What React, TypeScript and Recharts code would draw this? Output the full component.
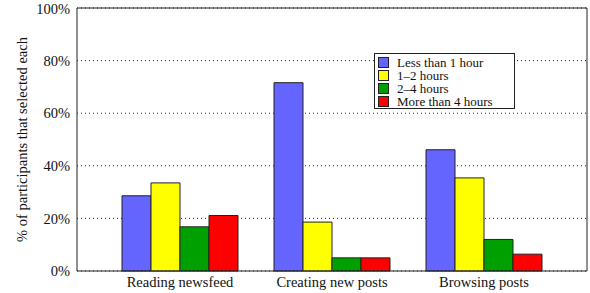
import React from "react";
import {
  BarChart,
  Bar,
  XAxis,
  YAxis,
  CartesianGrid,
  Legend,
} from "recharts";

const activities = ["Reading newsfeed", "Creating new posts", "Browsing posts"];
const lessThan1 = [28.6, 71.6, 46.1];
const oneToTwo = [33.5, 18.6, 35.4];
const twoToFour = [16.8, 5.0, 12.0];
const moreThan4 = [21.1, 5.0, 6.4];
const yTicks = [0, 20, 40, 60, 80, 100];

const seriesInfo = [
  { key: "lt1", name: "Less than 1 hour", color: "#6464ff" },
  { key: "h12", name: "1\u20132 hours", color: "#ffff00" },
  { key: "h24", name: "2\u20134 hours", color: "#00a000" },
  { key: "gt4", name: "More than 4 hours", color: "#ff0000" },
];

const data = activities.map((name, i) => ({
  name,
  lt1: lessThan1[i],
  h12: oneToTwo[i],
  h24: twoToFour[i],
  gt4: moreThan4[i],
}));

const font = "Liberation Serif, Times New Roman, serif";
const ink = "#111";
const frame = "#222";

function LegendBox() {
  return (
    <div
      style={{
        width: 141,
        height: 56,
        boxSizing: "border-box",
        border: `1px solid ${frame}`,
        background: "#fff",
        padding: "2px 3px",
        fontFamily: font,
        fontSize: 13,
        color: ink,
      }}
    >
      {seriesInfo.map((s) => (
        <div
          key={s.key}
          style={{ display: "flex", alignItems: "center", height: 13, lineHeight: "13px" }}
        >
          <span
            style={{
              display: "inline-block",
              width: 9,
              height: 9,
              border: `1px solid ${frame}`,
              background: s.color,
              marginRight: 8,
            }}
          />
          <span>{s.name}</span>
        </div>
      ))}
    </div>
  );
}

export default function App() {
  return (
    <div
      style={{
        position: "absolute",
        left: 0,
        top: 0,
        width: 590,
        height: 293,
        background: "#fff",
        fontFamily: font,
      }}
    >
      <BarChart
        width={590}
        height={293}
        data={data}
        margin={{ top: 8, right: 3, bottom: 0, left: 0 }}
        barGap={0}
        barSize={29}
      >
        <CartesianGrid vertical={false} stroke={frame} strokeDasharray="1 3" />
        <XAxis
          dataKey="name"
          padding={{ left: 27, right: 27 }}
          height={22}
          tickLine={false}
          tickSize={0}
          tickMargin={6}
          axisLine={{ stroke: frame }}
          tick={{ fontSize: 14.5, fill: ink, fontFamily: font }}
        />
        <XAxis
          xAxisId="top"
          dataKey="name"
          orientation="top"
          padding={{ left: 27, right: 27 }}
          height={1}
          mirror
          tick={false}
          tickSize={4}
          tickLine={{ stroke: frame }}
          axisLine={{ stroke: frame }}
        />
        <YAxis
          domain={[0, 100]}
          ticks={yTicks}
          width={77}
          tickLine={false}
          tickSize={0}
          tickMargin={7}
          tickFormatter={(v: number) => `${v}%`}
          axisLine={{ stroke: frame }}
          tick={{ fontSize: 14.5, fill: ink, fontFamily: font }}
          label={{
            value: "% of participants that selected each",
            angle: -90,
            position: "insideLeft",
            offset: 22,
            style: { textAnchor: "middle", fontSize: 14.5, fill: ink, fontFamily: font },
          }}
        />
        <YAxis
          yAxisId="right"
          orientation="right"
          domain={[0, 100]}
          ticks={yTicks}
          width={1}
          mirror
          tick={false}
          tickSize={4}
          tickLine={{ stroke: frame }}
          axisLine={{ stroke: frame }}
        />
        <Legend
          layout="vertical"
          align="center"
          verticalAlign="middle"
          content={() => <LegendBox />}
          wrapperStyle={{ left: 374, top: 53, width: 141, height: 56 }}
        />
        {seriesInfo.map((s) => (
          <Bar
            key={s.key}
            dataKey={s.key}
            name={s.name}
            fill={s.color}
            stroke={frame}
            strokeWidth={1}
            isAnimationActive={false}
          />
        ))}
      </BarChart>
    </div>
  );
}
